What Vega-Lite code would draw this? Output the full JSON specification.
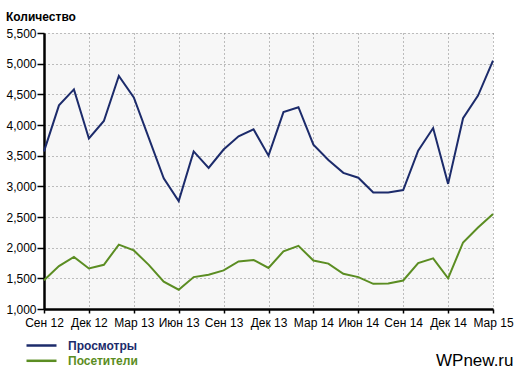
{
  "$schema": "https://vega.github.io/schema/vega-lite/v6.json",
  "width": 449,
  "height": 276,
  "autosize": "none",
  "padding": {"left": 44, "top": 33, "right": 25, "bottom": 62},
  "background": "white",
  "title": {"text": "Количество", "anchor": "start", "frame": "group", "dx": -38, "offset": -6, "baseline": "alphabetic", "fontSize": 12, "font": "Liberation Sans", "fontWeight": "bold", "color": "black"},
  "data": {"values": [
    {"m": "Сен 12", "s": "Просмотры", "v": 3570}, {"m": "Окт 12", "s": "Просмотры", "v": 4320}, {"m": "Ноя 12", "s": "Просмотры", "v": 4580}, {"m": "Дек 12", "s": "Просмотры", "v": 3780},
    {"m": "Янв 13", "s": "Просмотры", "v": 4065}, {"m": "Фев 13", "s": "Просмотры", "v": 4800}, {"m": "Мар 13", "s": "Просмотры", "v": 4450}, {"m": "Апр 13", "s": "Просмотры", "v": 3790},
    {"m": "Май 13", "s": "Просмотры", "v": 3130}, {"m": "Июн 13", "s": "Просмотры", "v": 2760}, {"m": "Июл 13", "s": "Просмотры", "v": 3570}, {"m": "Авг 13", "s": "Просмотры", "v": 3300},
    {"m": "Сен 13", "s": "Просмотры", "v": 3600}, {"m": "Окт 13", "s": "Просмотры", "v": 3815}, {"m": "Ноя 13", "s": "Просмотры", "v": 3930}, {"m": "Дек 13", "s": "Просмотры", "v": 3500},
    {"m": "Янв 14", "s": "Просмотры", "v": 4210}, {"m": "Фев 14", "s": "Просмотры", "v": 4290}, {"m": "Мар 14", "s": "Просмотры", "v": 3680}, {"m": "Апр 14", "s": "Просмотры", "v": 3430},
    {"m": "Май 14", "s": "Просмотры", "v": 3220}, {"m": "Июн 14", "s": "Просмотры", "v": 3140}, {"m": "Июл 14", "s": "Просмотры", "v": 2900}, {"m": "Авг 14", "s": "Просмотры", "v": 2900},
    {"m": "Сен 14", "s": "Просмотры", "v": 2940}, {"m": "Окт 14", "s": "Просмотры", "v": 3580}, {"m": "Ноя 14", "s": "Просмотры", "v": 3950}, {"m": "Дек 14", "s": "Просмотры", "v": 3040},
    {"m": "Янв 15", "s": "Просмотры", "v": 4110}, {"m": "Фев 15", "s": "Просмотры", "v": 4480}, {"m": "Мар 15", "s": "Просмотры", "v": 5050},
    {"m": "Сен 12", "s": "Посетители", "v": 1470}, {"m": "Окт 12", "s": "Посетители", "v": 1700}, {"m": "Ноя 12", "s": "Посетители", "v": 1850}, {"m": "Дек 12", "s": "Посетители", "v": 1660},
    {"m": "Янв 13", "s": "Посетители", "v": 1720}, {"m": "Фев 13", "s": "Посетители", "v": 2050}, {"m": "Мар 13", "s": "Посетители", "v": 1955}, {"m": "Апр 13", "s": "Посетители", "v": 1720},
    {"m": "Май 13", "s": "Посетители", "v": 1445}, {"m": "Июн 13", "s": "Посетители", "v": 1315}, {"m": "Июл 13", "s": "Посетители", "v": 1520}, {"m": "Авг 13", "s": "Посетители", "v": 1560},
    {"m": "Сен 13", "s": "Посетители", "v": 1630}, {"m": "Окт 13", "s": "Посетители", "v": 1775}, {"m": "Ноя 13", "s": "Посетители", "v": 1800}, {"m": "Дек 13", "s": "Посетители", "v": 1670},
    {"m": "Янв 14", "s": "Посетители", "v": 1940}, {"m": "Фев 14", "s": "Посетители", "v": 2030}, {"m": "Мар 14", "s": "Посетители", "v": 1790}, {"m": "Апр 14", "s": "Посетители", "v": 1740},
    {"m": "Май 14", "s": "Посетители", "v": 1575}, {"m": "Июн 14", "s": "Посетители", "v": 1520}, {"m": "Июл 14", "s": "Посетители", "v": 1410}, {"m": "Авг 14", "s": "Посетители", "v": 1415},
    {"m": "Сен 14", "s": "Посетители", "v": 1465}, {"m": "Окт 14", "s": "Посетители", "v": 1750}, {"m": "Ноя 14", "s": "Посетители", "v": 1825}, {"m": "Дек 14", "s": "Посетители", "v": 1500},
    {"m": "Янв 15", "s": "Посетители", "v": 2085}, {"m": "Фев 15", "s": "Посетители", "v": 2330}, {"m": "Мар 15", "s": "Посетители", "v": 2550}
  ]},
  "mark": {"type": "line", "strokeWidth": 2},
  "encoding": {
    "x": {
      "field": "m", "type": "ordinal", "sort": null,
      "scale": {"type": "point", "padding": 0},
      "axis": {
        "values": ["Сен 12", "Дек 12", "Мар 13", "Июн 13", "Сен 13", "Дек 13", "Мар 14", "Июн 14", "Сен 14", "Дек 14", "Мар 15"],
        "labelAngle": 0, "labelFont": "Liberation Sans", "labelFontSize": 12, "labelColor": "black",
        "labelPadding": 4, "tickSize": 4, "tickColor": "black", "tickWidth": 1.5,
        "domainColor": "black", "domainWidth": 2.5,
        "grid": true, "gridColor": "#808080", "gridDash": [1, 3], "gridWidth": 1,
        "title": "WPnew.ru", "titleFont": "Liberation Sans", "titleFontSize": 17, "titleFontWeight": "normal", "titleColor": "black",
        "titleAnchor": "end", "titleAlign": "right", "titleX": 469, "titleY": 56, "titleBaseline": "alphabetic"
      }
    },
    "y": {
      "field": "v", "type": "quantitative",
      "scale": {"domain": [1000, 5500], "nice": false, "zero": false},
      "axis": {
        "values": [1000, 1500, 2000, 2500, 3000, 3500, 4000, 4500, 5000, 5500],
        "format": ",d", "labelFont": "Liberation Sans", "labelFontSize": 12, "labelColor": "black",
        "labelPadding": 1, "tickSize": 7, "tickColor": "black", "tickWidth": 1.5,
        "domainColor": "black", "domainWidth": 2.5,
        "grid": true, "gridColor": "#808080", "gridDash": [1, 3], "gridWidth": 1,
        "title": null
      }
    },
    "color": {
      "field": "s", "type": "nominal",
      "scale": {"domain": ["Просмотры", "Посетители"], "range": ["#1c2b6b", "#5b8d22"]},
      "legend": {
        "orient": "none", "legendX": -10, "legendY": 305, "title": null, "padding": 0,
        "symbolType": "M-2.5,0H2.5", "symbolSize": 144, "symbolStrokeWidth": 2.5,
        "labelFont": "Liberation Sans", "labelFontSize": 12, "labelFontWeight": "bold", "labelOffset": 19,
        "rowPadding": 1.3,
        "encode": {"labels": {"update": {"fill": {"scale": "color", "field": "value"}}}}
      }
    }
  },
  "config": {"view": {"stroke": null, "fill": "#f7f7f7"}}
}
